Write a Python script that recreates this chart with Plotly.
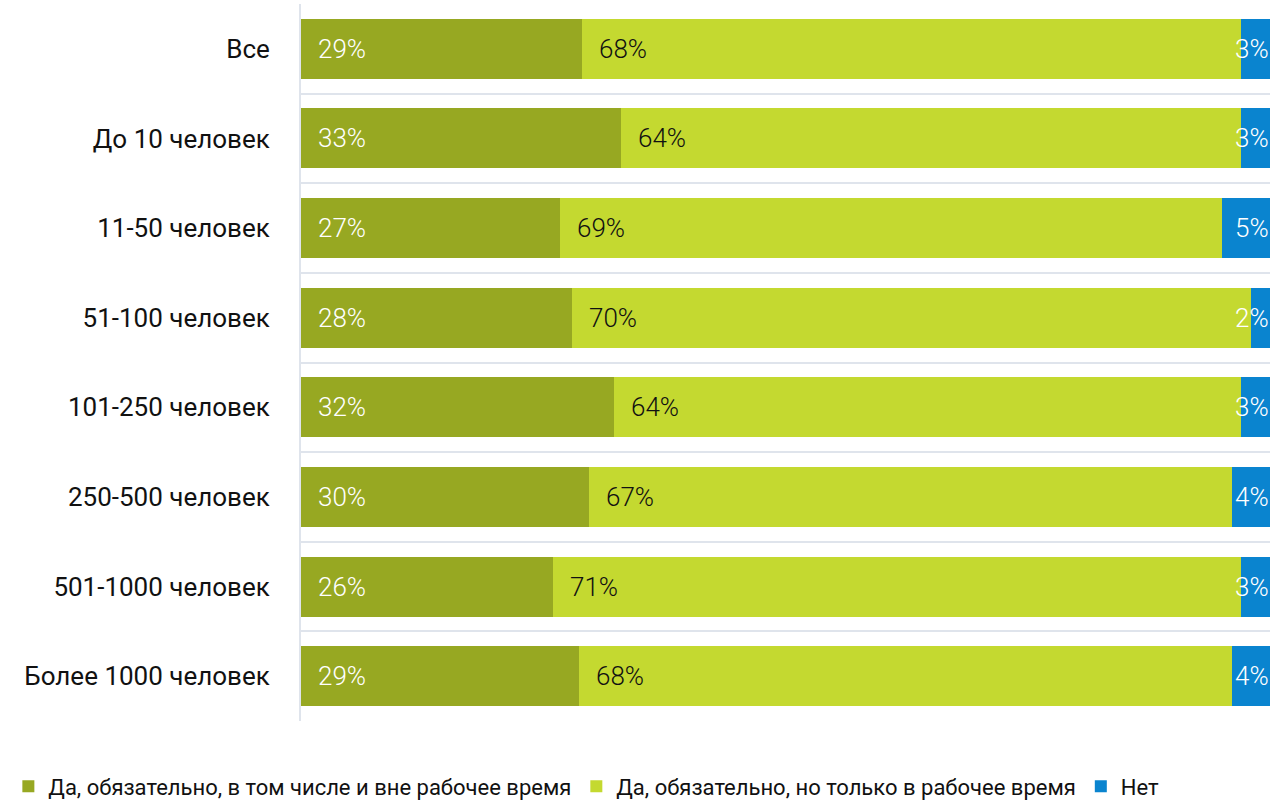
import plotly.graph_objects as go

# categories (top to bottom) and shares, %
categories = ["Все", "До 10 человек", "11-50 человек", "51-100 человек",
              "101-250 человек", "250-500 человек", "501-1000 человек",
              "Более 1000 человек"]
yes_always = [29, 33, 27, 28, 32, 30, 26, 29]
yes_work_hours = [68, 64, 69, 70, 64, 67, 71, 68]
no = [3, 3, 5, 2, 3, 4, 3, 4]

series = [
    ("Да, обязательно, в том числе и вне рабочее время", yes_always, "#97a822", "white"),
    ("Да, обязательно, но только в рабочее время", yes_work_hours, "#c4d930", "#111111"),
    ("Нет", no, "#0a84cf", "white"),
]

fig = go.Figure()
for name, vals, color, _ in series:
    fig.add_trace(go.Bar(
        y=categories, x=vals, name=name, orientation="h",
        marker=dict(color=color, line=dict(width=0)),
        hoverinfo="skip",
    ))

# value labels at the left edge of each segment (positions normalised like barnorm)
totals = [a + b + c for a, b, c in zip(yes_always, yes_work_hours, no)]
for i, cat in enumerate(categories):
    start = 0
    for k, (name, vals, color, tcolor) in enumerate(series):
        share = vals[i] / totals[i] * 100
        if k == len(series) - 1:
            # the narrow last segment: keep its label inside the right edge
            pos = dict(x=100, xanchor="right", xshift=1)
        else:
            pos = dict(x=start, xanchor="left", xshift=15)
        fig.add_annotation(y=cat, text=f"{vals[i]}%", showarrow=False, **pos,
                           font=dict(size=26, color=tcolor, family="Roboto", weight=300))
        start += share

fig.update_layout(
    barmode="stack", barnorm="percent", bargap=0.33,
    width=1276, height=803,
    margin=dict(l=301, r=6, t=4, b=82, autoexpand=False),
    plot_bgcolor="white", paper_bgcolor="white",
    font=dict(family="Roboto", size=26, color="#111111"),
    showlegend=True,
    legend=dict(orientation="h", x=-0.302, y=-0.062, xanchor="left", yanchor="top",
                font=dict(size=22), traceorder="normal"),
    xaxis=dict(range=[0, 100], showgrid=False, showticklabels=False,
               zeroline=False, showline=False),
    yaxis=dict(autorange="reversed", tickson="boundaries", showgrid=True,
               gridcolor="#dfe4ec", gridwidth=2, ticks="", ticklabelstandoff=24,
               showline=True, linecolor="#dfe4ec", linewidth=2),
)

# drop the browser's default body margin so the figure sits at the page corner
fig.write_html("out.html", config={"displayModeBar": False},
               post_script="document.body.style.margin='0px';")
